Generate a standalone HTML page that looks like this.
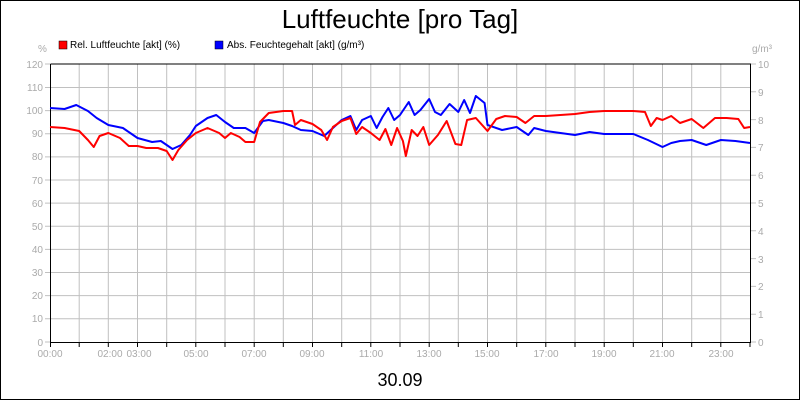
<!DOCTYPE html>
<html><head><style>body{margin:0;background:#fff}svg{display:block}</style></head><body>
<svg width="800" height="400" xmlns="http://www.w3.org/2000/svg" font-family="Liberation Sans, sans-serif">
<rect x="0.5" y="0.5" width="799" height="399" fill="#fff" stroke="#000"/>
<text x="400" y="28" font-size="26" text-anchor="middle">Luftfeuchte [pro Tag]</text>
<rect x="59" y="41" width="8" height="8" fill="#f00" stroke="#000" stroke-width="0.5"/>
<text x="70" y="48" font-size="10">Rel. Luftfeuchte [akt] (%)</text>
<rect x="215" y="41" width="8" height="8" fill="#00f" stroke="#000" stroke-width="0.5"/>
<text x="227" y="48" font-size="10">Abs. Feuchtegehalt [akt] (g/m³)</text>
<text x="38" y="52" font-size="10" fill="#aaa">%</text>
<text x="752" y="52" font-size="10" fill="#aaa">g/m³</text>
<g stroke="#c0c0c0" stroke-width="1">
<path d="M50 87.5H750M50 110.6H750M50 133.7H750M50 156.9H750M50 180H750M50 203.1H750M50 226.2H750M50 249.4H750M50 272.5H750M50 295.6H750M50 318.7H750"/>
<path d="M79.2 64V342M108.3 64V342M137.5 64V342M166.7 64V342M195.8 64V342M225 64V342M254.2 64V342M283.3 64V342M312.5 64V342M341.7 64V342M370.8 64V342M400 64V342M429.2 64V342M458.3 64V342M487.5 64V342M516.7 64V342M545.8 64V342M575 64V342M604.2 64V342M633.3 64V342M662.5 64V342M691.7 64V342M720.8 64V342"/>
<path d="M45 64H50M45 87.5H50M45 110.6H50M45 133.7H50M45 156.9H50M45 180H50M45 203.1H50M45 226.2H50M45 249.4H50M45 272.5H50M45 295.6H50M45 318.7H50M45 342H50"/>
<path d="M750 64H756M750 91.8H756M750 119.6H756M750 147.4H756M750 175.2H756M750 203H756M750 230.8H756M750 258.6H756M750 286.4H756M750 314.2H756M750 342H756"/>
</g>
<g stroke="#000" stroke-width="1" fill="none">
<path d="M50.5 64V342.5H750.5V64H50.5"/>
<path d="M50.5 342V347M79.2 342V347M108.3 342V347M137.5 342V347M166.7 342V347M195.8 342V347M225 342V347M254.2 342V347M283.3 342V347M312.5 342V347M341.7 342V347M370.8 342V347M400 342V347M429.2 342V347M458.3 342V347M487.5 342V347M516.7 342V347M545.8 342V347M575 342V347M604.2 342V347M633.3 342V347M662.5 342V347M691.7 342V347M720.8 342V347M750 342V347"/>
</g>
<g font-size="10" fill="#aaa" text-anchor="end">
<text x="43" y="68">120</text><text x="43" y="91">110</text><text x="43" y="114">100</text><text x="43" y="137">90</text><text x="43" y="160">80</text><text x="43" y="184">70</text><text x="43" y="207">60</text><text x="43" y="230">50</text><text x="43" y="253">40</text><text x="43" y="276">30</text><text x="43" y="299">20</text><text x="43" y="322">10</text><text x="43" y="346">0</text>
</g>
<g font-size="10" fill="#aaa">
<text x="758" y="68">10</text><text x="758" y="96">9</text><text x="758" y="124">8</text><text x="758" y="151">7</text><text x="758" y="179">6</text><text x="758" y="207">5</text><text x="758" y="235">4</text><text x="758" y="263">3</text><text x="758" y="290">2</text><text x="758" y="318">1</text><text x="758" y="346">0</text>
</g>
<g font-size="10" fill="#aaa" text-anchor="middle">
<text x="50" y="357">00:00</text><text x="110" y="357">02:00</text><text x="139" y="357">03:00</text><text x="196" y="357">05:00</text><text x="254" y="357">07:00</text><text x="312" y="357">09:00</text><text x="371" y="357">11:00</text><text x="429" y="357">13:00</text><text x="487" y="357">15:00</text><text x="546" y="357">17:00</text><text x="604" y="357">19:00</text><text x="662" y="357">21:00</text><text x="721" y="357">23:00</text>
</g>
<text x="400" y="386" font-size="18" text-anchor="middle">30.09</text>
<g transform="translate(50,0) scale(29.1667,1)" fill="none" stroke-width="2" stroke-linejoin="round">
<polyline vector-effect="non-scaling-stroke" stroke="#00f" points="0,108 0.5,109 0.9,105 1.3,111 1.6,118 2,125 2.5,128 2.8,134 3,138 3.5,142 3.8,141 4,145 4.2,149 4.5,145 4.8,135 5,126 5.4,118 5.7,115 6,122 6.3,128 6.7,128 7,133 7.3,121 7.5,120 8,123 8.3,126 8.6,130 9,131 9.4,136 9.7,128 10,120 10.3,116 10.5,130 10.7,120 11,116 11.2,128 11.4,117 11.6,108 11.8,120 12,115 12.3,102 12.5,115 12.7,110 13,99 13.2,112 13.4,115 13.7,104 14,112 14.2,100 14.4,113 14.6,96 14.9,103 15,125 15.5,130 16,127 16.4,135 16.6,128 17,131 17.5,133 18,135 18.5,132 19,134 19.5,134 20,134 20.5,140 21,147 21.3,143 21.6,141 22,140 22.5,145 23,140 23.5,141 24,143"/>
<polyline vector-effect="non-scaling-stroke" stroke="#f00" points="0,127 0.5,128 1,131 1.3,140 1.5,147 1.7,136 2,133 2.4,138 2.7,146 3,146 3.3,148 3.7,148 4,151 4.2,160 4.4,150 4.7,140 5,133 5.4,128 5.8,133 6,138 6.2,133 6.5,137 6.7,142 7,142 7.2,122 7.5,113 8,111 8.3,111 8.4,125 8.6,120 9,124 9.3,130 9.5,140 9.7,127 10,121 10.3,118 10.5,134 10.7,127 11,133 11.3,140 11.5,129 11.7,145 11.9,128 12.1,141 12.2,156 12.4,130 12.6,136 12.8,127 13,145 13.3,135 13.6,121 13.9,144 14.1,145 14.3,120 14.6,118 15,131 15.3,119 15.6,116 16,117 16.3,123 16.6,116 17,116 17.5,115 18,114 18.5,112 19,111 20,111 20.4,112 20.6,126 20.8,118 21,120 21.3,116 21.6,123 22,119 22.4,128 22.8,118 23.2,118 23.6,119 23.8,128 24,127"/>
</g>
</svg>
</body></html>
